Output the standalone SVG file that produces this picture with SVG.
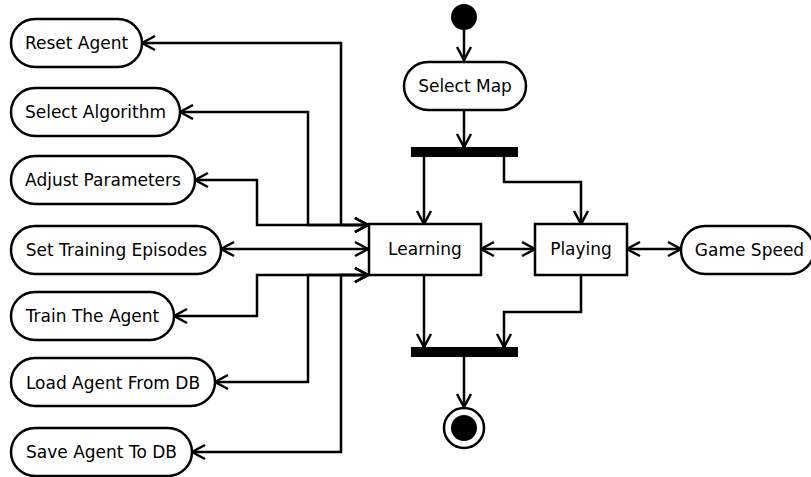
<svg xmlns="http://www.w3.org/2000/svg" width="811" height="477" viewBox="0 0 811 477">
  <style>
    .shape { fill: #fff; stroke: #000; stroke-width: 2.5; }
    .bar { fill: #000; }
    .label { font-family: "DejaVu Sans", "Liberation Sans", sans-serif; font-size: 17px; fill: #000; text-anchor: middle; }
    .edge { fill: none; stroke: #000; stroke-width: 2.5; marker-end: url(#arrow); }
    .both { marker-start: url(#arrow); }
  </style>
  <defs>
    <marker id="arrow" markerUnits="userSpaceOnUse" markerWidth="20" markerHeight="20" viewBox="-16 -10 20 20" refX="0" refY="0" orient="auto-start-reverse">
      <path d="M-13,-7 L0,0 L-13,7" fill="none" stroke="#000" stroke-width="2.5"/>
    </marker>
  </defs>
  <rect width="811" height="477" fill="#fff"/>

  <!-- control flow and links -->
  <g id="connectors">
    <path class="edge" d="M464 30 V60"/>
    <path class="edge" d="M464 110 V147"/>
    <path class="edge" d="M424 157 V224"/>
    <path class="edge" d="M504 157 V182 H581 V224"/>
    <path class="edge" d="M424 275 V347"/>
    <path class="edge" d="M581 275 V312 H504 V347"/>
    <path class="edge" d="M464 357 V407"/>
    <path class="edge both" d="M481 249 H535"/>
    <path class="edge both" d="M627 249 H681"/>
    <path class="edge both" d="M368 225 H341 V43 H142"/>
    <path class="edge both" d="M368 225 H308 V112 H180"/>
    <path class="edge both" d="M368 225 H257 V180 H195"/>
    <path class="edge both" d="M368 249 H221"/>
    <path class="edge both" d="M368 275 H257 V316 H174"/>
    <path class="edge both" d="M368 275 H308 V382 H215"/>
    <path class="edge both" d="M368 275 H341 V452 H192"/>
  </g>

  <g id="start"><circle cx="464" cy="17" r="13" fill="#000"/></g>
  <g id="select-map">
    <rect class="shape" x="404" y="62" width="122" height="48" rx="24"/>
    <text class="label" x="465" y="92">Select Map</text>
  </g>
  <g id="fork"><rect class="bar" x="411" y="147" width="107" height="10"/></g>
  <g id="learning">
    <rect class="shape" x="369" y="224" width="112" height="51"/>
    <text class="label" x="425" y="255">Learning</text>
  </g>
  <g id="playing">
    <rect class="shape" x="535" y="224" width="92" height="51"/>
    <text class="label" x="581" y="255">Playing</text>
  </g>
  <g id="game-speed">
    <rect class="shape" x="681" y="226" width="133" height="48" rx="24"/>
    <text class="label" x="749.5" y="256">Game Speed</text>
  </g>
  <g id="join"><rect class="bar" x="411" y="347" width="107" height="10"/></g>
  <g id="end">
    <circle class="shape" cx="464" cy="428" r="20"/>
    <circle cx="464" cy="428" r="13" fill="#000"/>
  </g>

  <g id="reset-agent">
    <rect class="shape" x="11" y="19" width="131" height="48" rx="24"/>
    <text class="label" x="76.5" y="49">Reset Agent</text>
  </g>
  <g id="select-algorithm">
    <rect class="shape" x="11" y="88" width="169" height="48" rx="24"/>
    <text class="label" x="95.5" y="118">Select Algorithm</text>
  </g>
  <g id="adjust-parameters">
    <rect class="shape" x="11" y="156" width="184" height="48" rx="24"/>
    <text class="label" x="103" y="186">Adjust Parameters</text>
  </g>
  <g id="set-training-episodes">
    <rect class="shape" x="11" y="226" width="210" height="48" rx="24"/>
    <text class="label" x="116.5" y="256">Set Training Episodes</text>
  </g>
  <g id="train-the-agent">
    <rect class="shape" x="11" y="292" width="163" height="48" rx="24"/>
    <text class="label" x="92.5" y="322">Train The Agent</text>
  </g>
  <g id="load-agent">
    <rect class="shape" x="11" y="358" width="204" height="48" rx="24"/>
    <text class="label" x="113" y="388.5">Load Agent From DB</text>
  </g>
  <g id="save-agent">
    <rect class="shape" x="11" y="428" width="181" height="48" rx="24"/>
    <text class="label" x="101.5" y="458">Save Agent To DB</text>
  </g>
</svg>
